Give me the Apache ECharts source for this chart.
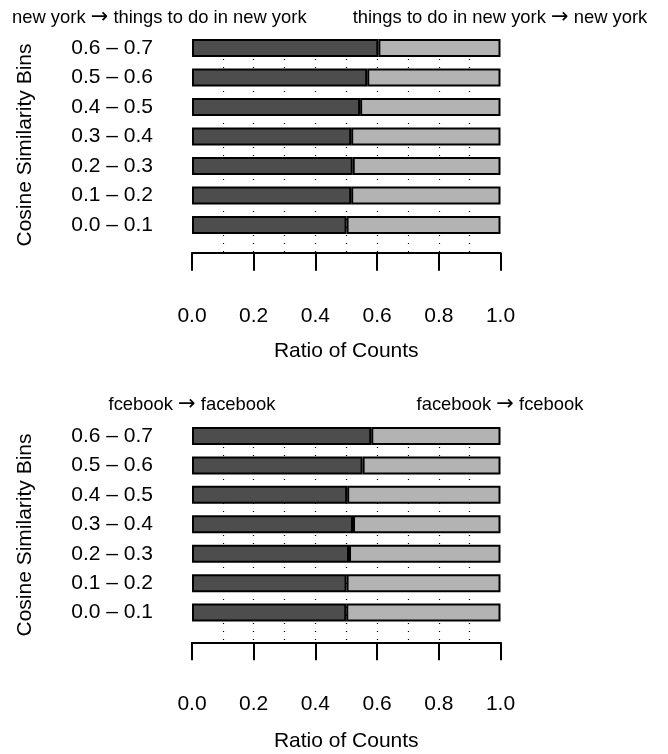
<!DOCTYPE html>
<html>
<head>
<meta charset="utf-8">
<script src="https://cdn.jsdelivr.net/npm/echarts@6/dist/echarts.min.js"></script>
<style>
html,body{margin:0;padding:0;background:#fff;}
#chart{width:668px;height:754px;}
</style>
</head>
<body>
<div id="chart"></div>
<script>
// ---- data ----
const categories = ['0.0 – 0.1','0.1 – 0.2','0.2 – 0.3','0.3 – 0.4','0.4 – 0.5','0.5 – 0.6','0.6 – 0.7'];
const xTickLabels = ['0.0','0.2','0.4','0.6','0.8','1.0'];
// panel 1: new york
const nyForward  = [0.501, 0.516, 0.521, 0.516, 0.545, 0.568, 0.604];
const nyBackward = [0.499, 0.484, 0.479, 0.484, 0.455, 0.432, 0.396];
// panel 2: facebook
const fbForward  = [0.500, 0.501, 0.509, 0.522, 0.503, 0.553, 0.581];
const fbBackward = [0.500, 0.499, 0.491, 0.478, 0.497, 0.447, 0.419];
const panel1Headers = [['new york', 'things to do in new york'], ['things to do in new york', 'new york']];
const panel2Headers = [['fcebook', 'facebook'], ['facebook', 'fcebook']];
const yTitle = 'Cosine Similarity Bins';
const xTitle = 'Ratio of Counts';

// ---- styles ----
const FONT = '"Liberation Sans", Arial, Helvetica, sans-serif';
const DARK = '#4d4d4d', LIGHT = '#b3b3b3';
const GL = 192, GW = 308.5;

function tickFmt(v){ const i = Math.round(v / 0.2); return xTickLabels[i] !== undefined ? xTickLabels[i] : ''; }

function mainX(grid, offset, margin){
  return {
    type:'value', gridIndex:grid, min:0, max:1, interval:0.2, offset:offset,
    axisLine:{show:true, lineStyle:{color:'#000', width:2}},
    axisTick:{show:true, length:18, lineStyle:{color:'#000', width:2}},
    axisLabel:{show:true, margin:margin, fontSize:21, fontFamily:FONT, color:'#000', formatter:tickFmt, showMinLabel:true, showMaxLabel:true},
    splitLine:{show:false},
    name:xTitle, nameLocation:'middle', nameGap:88,
    nameTextStyle:{fontSize:21, fontFamily:FONT, color:'#000'}
  };
}
function dotX(grid){
  return {
    type:'value', gridIndex:grid, min:0, max:1, interval:0.1,
    axisLine:{show:false}, axisTick:{show:false}, axisLabel:{show:false},
    splitLine:{show:true, showMinLine:false, showMaxLine:false, lineStyle:{color:'#000', width:1.2, type:[1,7]}}
  };
}
function catY(grid){
  return {
    type:'category', gridIndex:grid, data:categories,
    axisLine:{show:false}, axisTick:{show:false},
    axisLabel:{margin:39, fontSize:21, fontFamily:FONT, color:'#000'},
    splitLine:{show:false}
  };
}
function hiddenY(grid){
  return {type:'value', gridIndex:grid, min:0, max:1, show:false, splitLine:{show:false}};
}
function barSeries(xi, yi, stack, data, color){
  return {
    type:'bar', xAxisIndex:xi, yAxisIndex:yi, stack:stack, data:data,
    barWidth:18, silent:true,
    itemStyle:{color:color, borderColor:'#000', borderWidth:2},
    z:3
  };
}
function header(pair, x, y, align){
  return {
    type:'text', x:x, y:y,
    style:{
      text:pair[0] + ' {a|→} ' + pair[1],
      fontSize:18.4, fontFamily:FONT, fill:'#000', align:align, verticalAlign:'middle',
      rich:{a:{fontSize:21, fontFamily:'"DejaVu Sans", sans-serif', fill:'#000'}}
    }
  };
}

const chart = echarts.init(document.getElementById('chart'), null, {renderer:'canvas'});
chart.setOption({
  animation:false,
  backgroundColor:'#fff',
  grid:[
    {left:GL, width:GW, top:33.25, height:206.5},
    {left:GL, width:GW, top:43, height:210},
    {left:GL, width:GW, top:421.3, height:206},
    {left:GL, width:GW, top:431, height:211}
  ],
  xAxis:[ mainX(0, 13, 53), dotX(1), mainX(2, 15, 51), dotX(3) ],
  yAxis:[ catY(0), hiddenY(1), catY(2), hiddenY(3) ],
  series:[
    barSeries(0, 0, 'p1', nyForward, DARK),
    barSeries(0, 0, 'p1', nyBackward, LIGHT),
    barSeries(2, 2, 'p2', fbForward, DARK),
    barSeries(2, 2, 'p2', fbBackward, LIGHT)
  ],
  graphic:[
    header(panel1Headers[0], 12, 18, 'left'),
    header(panel1Headers[1], 500, 18, 'center'),
    header(panel2Headers[0], 192, 405, 'center'),
    header(panel2Headers[1], 500, 405, 'center'),
    {type:'text', x:25, y:145, rotation:Math.PI/2, style:{text:yTitle, fontSize:21, fontFamily:FONT, fill:'#000', align:'center', verticalAlign:'middle'}},
    {type:'text', x:25, y:535, rotation:Math.PI/2, style:{text:yTitle, fontSize:21, fontFamily:FONT, fill:'#000', align:'center', verticalAlign:'middle'}}
  ]
});
</script>
</body>
</html>
